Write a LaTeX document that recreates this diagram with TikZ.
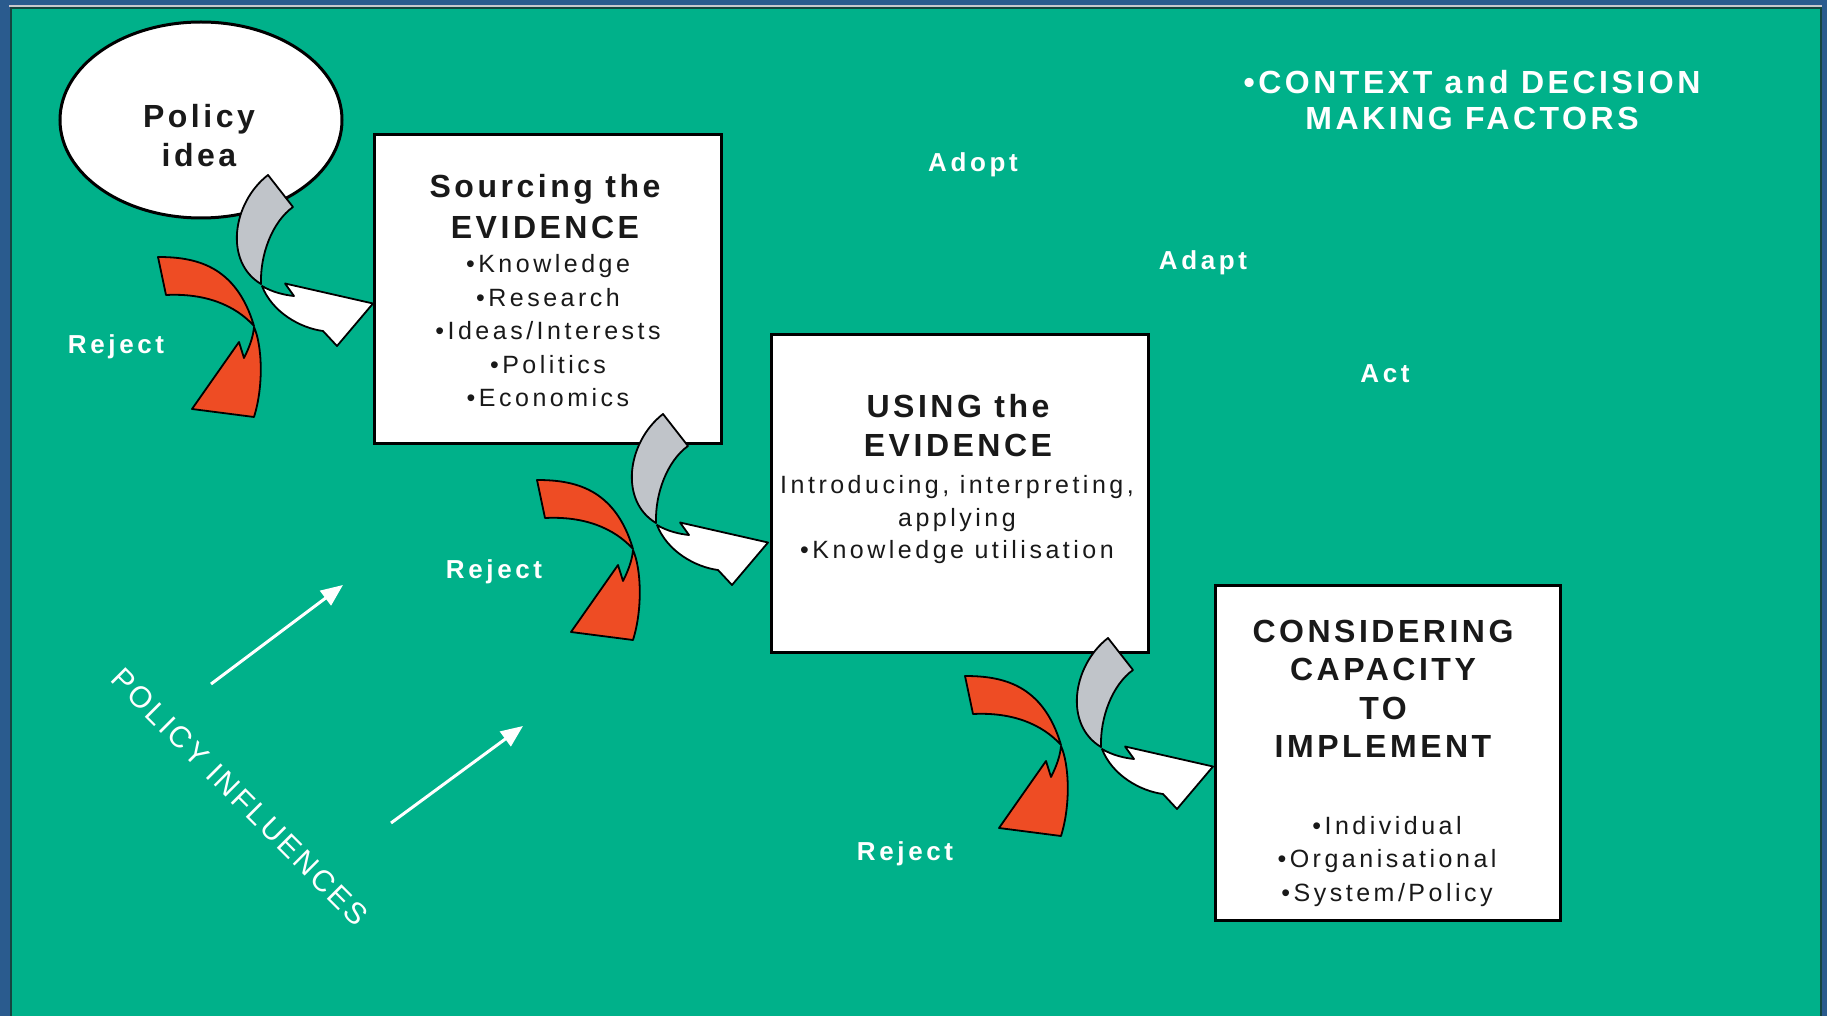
\documentclass[tikz,border=0pt]{standalone}
\usepackage{fontspec}
\setmainfont{Liberation Sans}
\newfontfamily\headfont[LetterSpace=11]{Liberation Sans}
\newfontfamily\bodyfont[LetterSpace=14]{Liberation Sans}
\newfontfamily\slantfont[LetterSpace=9]{Liberation Sans}
\usetikzlibrary{arrows.meta,shapes.geometric}
\definecolor{bgblue}{RGB}{42,91,142}
\definecolor{panel}{RGB}{0,177,138}
\definecolor{paneledge}{RGB}{20,70,65}
\definecolor{rimgray}{RGB}{200,200,205}
\definecolor{rejred}{RGB}{238,76,36}
\definecolor{ribgray}{RGB}{192,196,201}
\definecolor{ink}{RGB}{25,25,25}
\tikzset{
  box/.style={draw=black, fill=white, line width=3pt, inner sep=0pt},
  headtxt/.style={align=center, inner sep=0pt, text=ink, font=\headfont\bfseries\fontsize{32}{#1}\selectfont},
  bodytxt/.style={align=center, inner sep=0pt, text=ink, font=\bodyfont\fontsize{25}{#1}\selectfont},
  whitelab/.style={text=white, inner sep=0pt, anchor=base, font=\bodyfont\bfseries\fontsize{26}{30}\selectfont},
  ribbon/.style={draw=black, line width=1.8pt, line join=round},
  infl/.style={draw=white, line width=3pt, -{Triangle[length=22pt,width=18pt]}},
  passarrow/.pic={
    \path[ribbon, fill=ribgray] (268,175) -- (293,207)
      .. controls (272,222) and (260,255) .. (261,284)
      .. controls (224,262) and (232,203) .. cycle;
    \path[ribbon, fill=white] (262,286)
      .. controls (272,292) and (284,295) .. (294,296)
      -- (285,283.5) -- (373,303.5) -- (337,346) -- (323,331)
      .. controls (300,328) and (272,312) .. cycle;
  },
  rejectarrow/.pic={
    \path[ribbon, fill=rejred] (158,257)
      .. controls (195,257) and (236,265) .. (254,326)
      .. controls (235,305) and (205,293) .. (166,295) -- cycle;
    \path[ribbon, fill=rejred] (254,327)
      .. controls (262,345) and (264,385) .. (254,417)
      -- (192,409) -- (239,342) -- (244,358)
      .. controls (249,348) and (253,338) .. cycle;
  }
}
\begin{document}
\begin{tikzpicture}[x=1pt,y=-1pt]
\useasboundingbox (0,0) rectangle (1827,1016);
% frame and panel
\fill[bgblue] (0,0) rectangle (1827,1016);
\draw[rimgray, line width=2pt] (9,6) -- (1822,6);
\path[fill=panel, draw=paneledge, line width=2pt] (11,8) rectangle (1821,1018);

% policy idea
\node[ellipse, draw=black, fill=white, line width=3pt, inner sep=0pt,
      minimum width=282pt, minimum height=196pt] (idea) at (201,120) {};
\node[headtxt=39] (ideatxt) at (199,135.5) {Policy\\idea};

% boxes
\node[box, minimum width=347pt, minimum height=308pt] (source) at (547.5,289) {};
\node[box, minimum width=377pt, minimum height=318pt] (using) at (959.5,493) {};
\node[box, minimum width=345pt, minimum height=335pt] (capacity) at (1387.5,752.5) {};

\node[headtxt=40.5] (srchead) at (545,206.7) {Sourcing the\\EVIDENCE};
\node[bodytxt=33.5] (srcbody) at (548,331) {•Knowledge\\•Research\\•Ideas/Interests\\•Politics\\•Economics};
\node[headtxt=38.6] (usehead) at (958,425.3) {USING the\\EVIDENCE};
\node[bodytxt=32.5] (usebody) at (957,520) {Introducing, interpreting,\\applying\\•Knowledge utilisation};
\node[headtxt=38.5] (caphead) at (1383,688.8) {CONSIDERING\\CAPACITY\\TO\\IMPLEMENT};
\node[bodytxt=33.7] (capbody) at (1387,861.3) {•Individual\\•Organisational\\•System/Policy};

% white labels
\node[headtxt=36.5, text=white] (context) at (1472,100) {•CONTEXT and DECISION\\MAKING FACTORS};
\node[whitelab] (adopt) at (973,171.5) {Adopt};
\node[whitelab] (adapt) at (1203,269.5) {Adapt};
\node[whitelab] (act) at (1385,382.5) {Act};
\node[whitelab] (rej1) at (116,353) {Reject};
\node[whitelab] (rej2) at (494,578) {Reject};
\node[whitelab] (rej3) at (905,860) {Reject};
\node[text=white, inner sep=0pt, rotate=-45, font=\slantfont\fontsize{30}{32}\selectfont]
  (influences) at (240,797) {POLICY INFLUENCES};

% influence arrows
\coordinate (ia1) at (211,684);
\coordinate (ib1) at (343,585);
\coordinate (ia2) at (391,823);
\coordinate (ib2) at (523,726);
\draw[infl] (ia1) -- (ib1);
\draw[infl] (ia2) -- (ib2);

% curved block arrows
\pic at (0,0) {passarrow};
\pic at (395,239) {passarrow};
\pic at (840,463) {passarrow};
\pic at (0,0) {rejectarrow};
\pic at (379,223) {rejectarrow};
\pic at (807,419) {rejectarrow};
\end{tikzpicture}
\end{document}
